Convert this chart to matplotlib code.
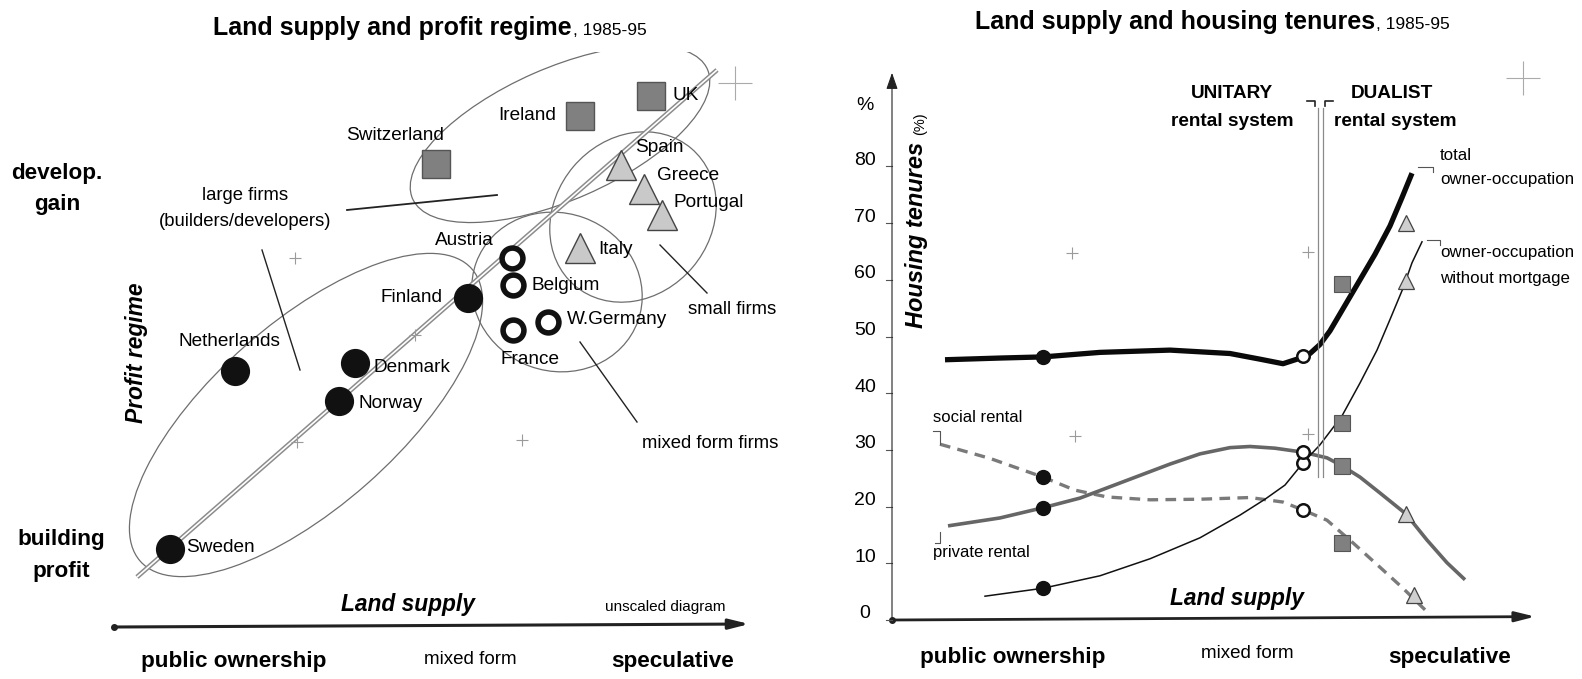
import numpy as np
import matplotlib.pyplot as plt
from matplotlib.patches import Ellipse

plt.rcParams['font.family'] = ['Liberation Sans', 'DejaVu Sans']

W, H = 1582, 679

# ---------------- left diagram: land supply vs profit regime (unscaled, 1 unit = 10 px)
filled_names = ['Sweden', 'Netherlands', 'Denmark', 'Norway', 'Finland']
filled_x = [5.6, 12.1, 24.1, 22.5, 35.4]
filled_y = [7.8, 25.6, 26.4, 22.6, 32.9]

open_names = ['Austria', 'Belgium', 'W.Germany', 'France']
open_x = [39.8, 39.9, 43.4, 39.9]
open_y = [36.9, 34.2, 30.5, 29.7]

square_names = ['Switzerland', 'Ireland', 'UK']
square_x = [32.2, 46.6, 53.7]
square_y = [46.3, 51.1, 53.1]

tri_names = ['Spain', 'Greece', 'Portugal', 'Italy']
tri_x = [50.7, 53.0, 54.8, 46.6]
tri_y = [46.2, 43.8, 41.2, 37.9]

diag_x = [2.3, 60.3]
diag_y = [5.0, 55.7]

cross_x = [18.1, 30.1, 18.3, 40.8]
cross_y = [36.9, 29.2, 18.5, 18.7]

# groups: centre x, centre y, semi-axes, tilt (deg)
group_cx = [19.2, 44.6, 51.9, 44.3]
group_cy = [21.2, 49.3, 41.0, 33.5]
group_a = [22.1, 16.1, 9.0, 8.6]
group_b = [9.2, 6.6, 7.8, 7.9]
group_ang = [41.4, 23.7, 49.7, -20.0]

# ---------------- right diagram: housing tenures (%)
curve_total_x = [5.3, 10.8, 15.1, 20.8, 27.8, 33.8, 36.8, 39.1, 40.5, 41.8, 42.8, 43.8,
                 45.3, 46.8, 48.3, 49.8, 51.0, 52.0]
curve_total_y = [45.9, 46.2, 46.4, 47.2, 47.6, 47.0, 46.0, 45.2, 46.0, 47.0, 48.6, 51.0,
                 55.5, 60.0, 64.5, 69.5, 74.5, 78.8]
curve_nomort_x = [9.3, 15.1, 20.8, 25.8, 30.8, 34.8, 37.3, 39.3, 41.1, 42.8, 45.0, 46.8,
                  48.5, 49.8, 51.1, 52.0, 53.0]
curve_nomort_y = [4.2, 5.6, 7.8, 10.8, 14.5, 18.5, 21.3, 23.8, 27.7, 30.9, 36.0, 41.8,
                  47.6, 53.0, 58.5, 63.0, 66.7]
curve_private_x = [5.6, 10.8, 15.1, 18.8, 21.5, 24.8, 27.8, 30.8, 33.8, 35.8, 38.3, 41.1,
                   43.5, 45.0, 46.8, 48.8, 51.4, 53.5, 55.5, 57.3]
curve_private_y = [16.6, 18.0, 19.8, 21.5, 23.3, 25.5, 27.5, 29.3, 30.4, 30.6, 30.3, 29.6,
                   28.6, 27.2, 25.2, 22.4, 18.7, 14.1, 10.1, 7.1]
curve_social_x = [4.8, 9.8, 15.1, 18.3, 21.5, 25.8, 30.8, 35.8, 39.1, 41.1, 43.5, 46.1,
                  48.8, 51.1, 53.3]
curve_social_y = [31.0, 28.5, 25.2, 22.9, 21.7, 21.2, 21.3, 21.6, 20.8, 19.4, 17.6, 13.6,
                  9.3, 5.6, 1.8]

# observed points: order = total, without mortgage, private rental, social rental
pub_x = [15.1, 15.1, 15.1, 15.1]
pub_y = [46.4, 5.6, 19.8, 25.2]
mix_x = [41.1, 41.1, 41.1, 41.1]
mix_y = [46.5, 27.7, 29.6, 19.4]
sq_x = [45.0, 45.0, 45.0, 45.0]
sq_y = [59.3, 34.7, 27.2, 13.6]
tr_x = [51.4, 51.4, 51.4, 52.2]
tr_y = [70.0, 59.8, 18.7, 4.4]

yticks = [0, 10, 20, 30, 40, 50, 60, 70, 80]
rcross_x = [41.6, 41.6, 18.0, 18.3]
rcross_y = [64.9, 32.8, 64.7, 32.5]

fig = plt.figure(figsize=(W / 100, H / 100), dpi=100)


def ftxt(x, y, s, **kw):
    fig.text(x / W, 1 - y / H, s, **kw)


# ================= left panel
axl = fig.add_axes([114 / W, (H - 627) / H, 650 / W, 575 / H])
axl.set_xlim(0, 65)
axl.set_ylim(0, 57.5)
axl.axis('off')

for cx, cy, a, b, ang in zip(group_cx, group_cy, group_a, group_b, group_ang):
    axl.add_patch(Ellipse((cx, cy), 2 * a, 2 * b, angle=ang, fill=False,
                          ec='#6e6e6e', lw=0.9))

axl.plot(diag_x, diag_y, color='#8c8c8c', lw=3.4, solid_capstyle='butt')
axl.plot(diag_x, diag_y, color='white', lw=1.2, solid_capstyle='butt')
axl.plot(cross_x, cross_y, '+', color='#9a9a9a', ms=9, mew=0.8)
axl.plot([62.1], [54.4], '+', color='#aaaaaa', ms=24, mew=0.8, clip_on=False)

# pointer lines
axl.plot([23.3, 38.3], [41.7, 43.2], color='#222', lw=1.3)
axl.plot([14.8, 18.6], [37.7, 25.7], color='#222', lw=1.0)
axl.plot([54.6, 59.3], [38.2, 33.4], color='#222', lw=1.0)
axl.plot([46.6, 52.3], [28.5, 20.5], color='#222', lw=1.0)

axl.plot(filled_x, filled_y, 'o', color='#111', ms=20, zorder=5)
axl.plot(open_x, open_y, 'o', mfc='white', mec='#111', ms=15, mew=4.0, zorder=5)
axl.plot(square_x, square_y, 's', mfc='#808080', mec='#555', ms=20, mew=1.0, zorder=5)
axl.plot(tri_x, tri_y, '^', mfc='#c9c9c9', mec='#444', ms=22, mew=1.0, zorder=5)

axl.annotate('', xy=(-0.2, 54.9), xytext=(0, 0),
             arrowprops=dict(arrowstyle='-|>,head_length=1.0,head_width=0.35',
                             color='#222', lw=0.8))
axl.annotate('', xy=(63.8, 0.3), xytext=(0, 0),
             arrowprops=dict(arrowstyle='-|>,head_length=1.2,head_width=0.3',
                             color='#222', lw=2.2))
axl.plot([0], [0], 'o', color='#222', ms=4, clip_on=False)

big = dict(fontsize=18, fontweight='bold')
ftxt(572, 35, 'Land supply and profit regime', ha='right', va='baseline', **big)
ftxt(573, 35, ', 1985-95', ha='left', va='baseline', fontsize=12.5)

lab = dict(fontsize=13.7, va='center')
ftxt(672, 95, 'UK', ha='left', **lab)
ftxt(527, 115, 'Ireland', ha='center', **lab)
ftxt(395, 135, 'Switzerland', ha='center', **lab)
ftxt(659, 147, 'Spain', ha='center', **lab)
ftxt(688, 175, 'Greece', ha='center', **lab)
ftxt(709, 202, 'Portugal', ha='center', **lab)
ftxt(616, 250, 'Italy', ha='center', **lab)
ftxt(464, 240, 'Austria', ha='center', **lab)
ftxt(566, 285, 'Belgium', ha='center', **lab)
ftxt(411, 297, 'Finland', ha='center', **lab)
ftxt(617, 320, 'W.Germany', ha='center', **lab)
ftxt(530, 360, 'France', ha='center', **lab)
ftxt(229, 342, 'Netherlands', ha='center', **lab)
ftxt(412, 367, 'Denmark', ha='center', **lab)
ftxt(391, 403, 'Norway', ha='center', **lab)
ftxt(220, 548, 'Sweden', ha='center', **lab)

note = dict(fontsize=13.3, va='center', ha='center')
ftxt(245, 195, 'large firms', **note)
ftxt(245, 222, '(builders/developers)', **note)
ftxt(732, 310, 'small firms', **note)
ftxt(710, 443, 'mixed form firms', **note)
ftxt(665, 607, 'unscaled diagram', fontsize=11, va='center', ha='center')

sb = dict(fontsize=16.2, fontweight='bold', va='center', ha='center')
ftxt(57, 173, 'develop.', **sb)
ftxt(57, 204, 'gain', **sb)
ftxt(61, 540, 'building', **sb)
ftxt(61, 571, 'profit', **sb)
ftxt(234, 662, 'public ownership', **sb)
ftxt(673, 662, 'speculative', **sb)
ftxt(470, 660, 'mixed form', fontsize=13.5, va='center', ha='center')
ftxt(408, 605, 'Land supply', fontsize=16.4, fontweight='bold', fontstyle='italic',
     va='center', ha='center')
ftxt(137, 353, 'Profit regime', fontsize=16.4, fontweight='bold', fontstyle='italic',
     va='center', ha='center', rotation=90)

# ================= right panel
axr = fig.add_axes([892 / W, (H - 620) / H, 668 / W, 570 / H])
axr.set_xlim(0, 66.8)
axr.set_ylim(0, 570 / 5.67)
axr.axis('off')

axr.plot(curve_social_x, curve_social_y, color='#7a7a7a', lw=2.4, dashes=(3.2, 2.2))
axr.plot(curve_private_x, curve_private_y, color='#666', lw=2.6, solid_capstyle='butt')
axr.plot(curve_nomort_x, curve_nomort_y, color='#111', lw=1.1)
axr.plot(curve_total_x, curve_total_y, color='#0a0a0a', lw=3.8, solid_capstyle='butt')

# unitary / dualist divider
axr.plot([42.6, 42.6], [25.2, 90.3], color='#8a8a8a', lw=0.9)
axr.plot([43.1, 43.1], [25.2, 90.3], color='#8a8a8a', lw=0.9)
axr.plot([41.5, 42.3, 42.3], [91.5, 91.5, 90.6], color='#222', lw=1.2)
axr.plot([44.1, 43.3, 43.3], [91.5, 91.5, 90.6], color='#222', lw=1.2)

# label brackets
axr.plot([4.1, 4.8, 4.8], [33.3, 33.3, 31.0], color='#555', lw=0.8)
axr.plot([4.8, 4.8, 4.3], [15.5, 13.6, 13.6], color='#555', lw=0.8)
axr.plot([52.6, 54.1, 54.1], [79.9, 79.9, 79.0], color='#555', lw=0.8)
axr.plot([53.5, 54.8, 54.8], [67.0, 67.0, 66.1], color='#555', lw=0.8)

axr.plot(rcross_x, rcross_y, '+', color='#9a9a9a', ms=9, mew=0.8)
axr.plot([63.1], [95.6], '+', color='#aaaaaa', ms=24, mew=0.8, clip_on=False)

axr.plot(pub_x, pub_y, 'o', color='#111', ms=10, zorder=5)
axr.plot(mix_x, mix_y, 'o', mfc='white', mec='#111', ms=9, mew=1.8, zorder=5)
axr.plot(sq_x, sq_y, 's', mfc='#808080', mec='#555', ms=11, mew=0.8, zorder=5)
axr.plot(tr_x, tr_y, '^', mfc='#cfcfcf', mec='#444', ms=12, mew=0.9, zorder=5)

axr.annotate('', xy=(0, 97.0), xytext=(0, 0),
             arrowprops=dict(arrowstyle='-|>,head_length=1.0,head_width=0.35',
                             color='#222', lw=0.8))
axr.annotate('', xy=(64.6, 0.6), xytext=(0, 0),
             arrowprops=dict(arrowstyle='-|>,head_length=1.2,head_width=0.3',
                             color='#222', lw=2.0))
axr.plot([0], [0], 'o', color='#222', ms=4, clip_on=False)

for v in yticks:
    axr.plot([-0.6, 0], [v, v], color='#555', lw=0.8, clip_on=False)
    ftxt(865, 614 - v * 5.67, str(v), fontsize=14, ha='center', va='center')

ftxt(1375, 29, 'Land supply and housing tenures', ha='right', va='baseline', **big)
ftxt(1376, 29, ', 1985-95', ha='left', va='baseline', fontsize=12.5)

ftxt(865, 105, '%', fontsize=14, ha='center', va='center')
ftxt(917, 328, 'Housing tenures', fontsize=17, fontweight='bold', fontstyle='italic',
     ha='center', va='bottom', rotation=90)
ftxt(920, 112, '(%)', fontsize=10.5, ha='center', va='top', rotation=90)

hb = dict(fontsize=13.7, fontweight='bold', ha='center', va='center')
ftxt(1232, 93, 'UNITARY', **hb)
ftxt(1232, 122, 'rental system', **hb)
ftxt(1392, 93, 'DUALIST', **hb)
ftxt(1395, 122, 'rental system', **hb)

rl = dict(fontsize=12.2, ha='left', va='center')
ftxt(1440, 155, 'total', **rl)
ftxt(1440, 180, 'owner-occupation', **rl)
ftxt(1440, 253, 'owner-occupation', **rl)
ftxt(1440, 278, 'without mortgage', **rl)
ftxt(933, 418, 'social rental', fontsize=12, ha='left', va='center')
ftxt(933, 553, 'private rental', fontsize=12, ha='left', va='center')

ftxt(1237, 598, 'Land supply', fontsize=16.4, fontweight='bold', fontstyle='italic',
     ha='center', va='center')
ftxt(1013, 658, 'public ownership', **sb)
ftxt(1450, 657, 'speculative', **sb)
ftxt(1247, 653, 'mixed form', fontsize=13.5, ha='center', va='center')

fig.savefig('out.png', dpi=100, facecolor='white')
